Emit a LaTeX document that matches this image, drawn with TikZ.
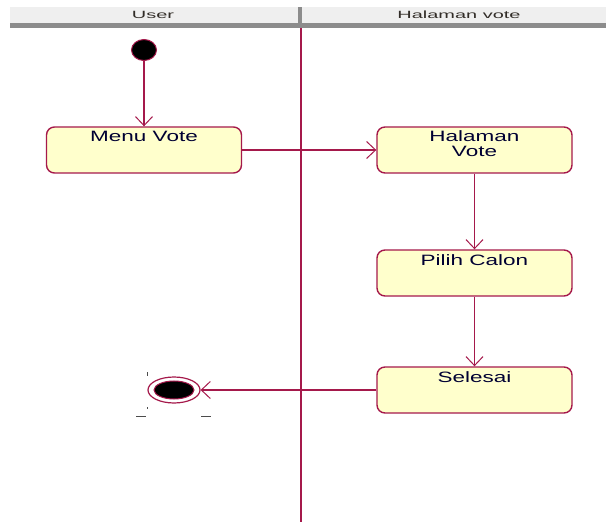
\documentclass[tikz,border=0pt]{standalone}
\usepackage{fontspec}
\usetikzlibrary{arrows.meta,shapes.geometric}
\newfontfamily\lblfont[FakeStretch=1.5]{Liberation Sans}
\newfontfamily\hdrfont[FakeStretch=1.9]{Liberation Sans}
\definecolor{umlred}{RGB}{165,25,75}
\definecolor{actfill}{RGB}{255,255,204}
\definecolor{hdrfill}{RGB}{239,239,239}
\definecolor{hdrdark}{RGB}{140,140,140}
\definecolor{hdrtext}{RGB}{50,45,40}
\tikzset{
  actbox/.style={draw=umlred, fill=actfill, line width=1.4pt, rounded corners=8pt,
    minimum width=195pt, minimum height=46pt, inner sep=0pt},
  lbl/.style={font=\lblfont\fontsize{15}{16}\selectfont, text=black!80!blue, inner sep=0pt, align=center, anchor=north},
  hdr/.style={font=\hdrfont\fontsize{10.5}{12}\selectfont, text=hdrtext, inner sep=0pt},
  flow/.style={draw=umlred, line width=1.4pt, -{Straight Barb[length=9pt,width=17pt,line width=1pt]}},
  selmark/.style={draw=black!70, line width=1pt}
}
\begin{document}
\begin{tikzpicture}[x=1pt,y=-1pt]
\useasboundingbox (0,0) rectangle (606,524);
% header
\fill[hdrfill] (10,7) rectangle (606,23);
\fill[hdrdark] (10,23) rectangle (606,28);
\fill[hdrdark] (298,7) rectangle (302,28);
\node[hdr] (hUser) at (153,15) {User};
\node[hdr] (hHal) at (459,15) {Halaman vote};
% lane line
\coordinate (laneTop) at (301,28);
\coordinate (laneBot) at (301,522);
\draw[umlred, line width=2pt] (laneTop) -- (laneBot);
% start
\node[ellipse, draw=umlred, fill=black, line width=1pt, minimum width=25pt, minimum height=21pt, inner sep=0pt] (start) at (144,50) {};
% activities
\node[actbox] (menu) at (144,150) {};
\node[lbl] (menuT) at ([yshift=-5pt]menu.north) {Menu Vote};
\node[actbox] (hal) at (474.5,150) {};
\node[lbl] (halT) at ([yshift=-4pt]hal.north) {Halaman\\[-1pt]Vote};
\node[actbox] (pilih) at (474.5,273) {};
\node[lbl] (pilihT) at ([yshift=-5pt]pilih.north) {Pilih Calon};
\node[actbox] (sel) at (474.5,390) {};
\node[lbl] (selT) at ([yshift=-5pt]sel.north) {Selesai};
% end
\node[ellipse, draw=umlred, fill=white, line width=1.2pt, minimum width=52pt, minimum height=26pt, inner sep=0pt] (end) at (174,390) {};
\node[ellipse, draw=umlred, fill=black, line width=1pt, minimum width=40pt, minimum height=18pt, inner sep=0pt] (endIn) at (174,390) {};
% flows
\draw[flow] (start) -- (menu);
\draw[flow] (menu.east) -- (hal.west);
\draw[flow] (hal) -- (pilih);
\draw[flow] (pilih) -- (sel);
\draw[flow] (sel.west) -- (end.east);
% selection marks
\draw[selmark] (147,372) -- (147,376);
\draw[selmark] (147,407) -- (147,409);
\draw[selmark] (136,416) -- (146,416);
\draw[selmark] (201,416) -- (211,416);
\end{tikzpicture}
\end{document}
